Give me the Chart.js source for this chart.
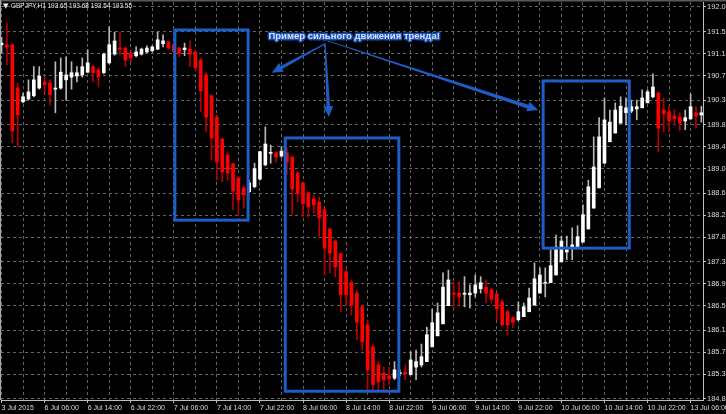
<!DOCTYPE html>
<html>
<head>
<meta charset="utf-8">
<script src="https://cdn.jsdelivr.net/npm/chart.js@4.4.1/dist/chart.umd.min.js"></script>
<style>
  html, body { margin: 0; padding: 0; background: #000; }
  canvas { display: block; }
</style>
</head>
<body>
<canvas id="chart" width="726" height="414"></canvas>
<script>
  // GBPJPY H1, one bar per hour from 3 Jul 22:00 to 13 Jul 08:00 (weekend skipped)
  const opens = [
    191.31, 191.31, 191.31, 190.52, 190.27, 190.32, 190.38, 190.52, 190.63, 190.61,
    190.50, 190.52, 190.67, 190.72, 190.74, 190.76, 190.81, 190.91, 190.85, 190.80,
    190.98, 191.14, 191.25, 191.25, 191.16, 191.11, 191.14, 191.18, 191.20, 191.23,
    191.33, 191.36, 191.31, 191.25, 191.22, 191.23, 191.18, 191.03, 190.76, 190.38,
    189.99, 189.59, 189.30, 189.14, 188.88, 188.70, 188.63, 188.72, 188.86, 189.12,
    189.33, 189.34, 189.28, 189.34, 189.26, 188.97, 188.79, 188.61, 188.50, 188.44,
    188.30, 187.95, 187.73, 187.50, 187.17, 186.97, 186.78, 186.53, 186.20, 185.80,
    185.47, 185.32, 185.27, 185.23, 185.31, 185.34, 185.29, 185.43, 185.47, 185.53,
    185.80, 186.00, 186.22, 186.55, 186.78, 186.78, 186.76, 186.75, 186.78, 186.86,
    186.89, 186.84, 186.77, 186.62, 186.44, 186.33, 186.29, 186.35, 186.44, 186.56,
    186.78, 186.96, 186.97, 187.11, 187.35, 187.53, 187.60, 187.62, 187.71, 187.95,
    188.33, 188.70, 189.15, 189.54, 189.70, 189.88, 190.07, 190.10, 190.14, 190.16,
    190.25, 190.36, 190.43, 190.12, 190.09, 190.01, 189.99, 189.92, 189.96, 190.07,
    190.03
  ];
  const highs = [
    191.45, 191.71, 191.33, 190.61, 190.43, 190.67, 190.91, 190.91, 190.72, 190.67,
    191.00, 191.07, 191.09, 191.00, 190.91, 191.07, 191.22, 190.93, 190.89, 191.16,
    191.64, 191.54, 191.54, 191.27, 191.18, 191.27, 191.25, 191.29, 191.29, 191.54,
    191.49, 191.38, 191.33, 191.27, 191.34, 191.38, 191.22, 191.07, 190.80, 190.40,
    190.03, 189.61, 189.34, 189.15, 188.90, 188.74, 188.84, 189.15, 189.37, 189.81,
    189.48, 189.36, 189.45, 189.43, 189.28, 188.99, 188.81, 188.63, 188.57, 188.53,
    188.33, 187.97, 187.75, 187.51, 187.20, 187.02, 186.84, 186.56, 186.29, 185.84,
    185.53, 185.43, 185.43, 185.53, 185.38, 185.47, 185.71, 185.74, 185.85, 186.16,
    186.49, 186.60, 187.15, 187.20, 186.98, 186.98, 187.08, 186.93, 187.11, 187.08,
    187.02, 186.87, 186.78, 186.66, 186.47, 186.35, 186.62, 186.60, 186.87, 187.33,
    187.24, 187.24, 187.57, 187.84, 187.82, 187.82, 187.97, 188.01, 188.39, 188.84,
    189.63, 189.98, 190.34, 190.12, 190.25, 190.36, 190.34, 190.30, 190.30, 190.49,
    190.49, 190.78, 190.45, 190.34, 190.19, 190.12, 190.07, 190.12, 190.41, 190.18,
    190.19
  ];
  const lows = [
    191.16, 190.94, 189.52, 189.45, 190.25, 190.30, 190.36, 190.50, 190.45, 190.21,
    190.07, 190.50, 190.30, 190.50, 190.63, 190.72, 190.80, 190.63, 190.54, 190.78,
    190.96, 191.12, 191.12, 190.91, 191.00, 191.09, 191.12, 191.16, 191.18, 191.22,
    191.27, 191.23, 191.12, 191.09, 191.11, 190.91, 190.85, 190.09, 189.72, 189.21,
    188.84, 188.81, 188.84, 188.30, 188.19, 188.33, 188.61, 188.70, 188.84, 189.10,
    189.15, 189.17, 189.26, 188.94, 188.21, 188.44, 188.17, 188.17, 188.24, 187.79,
    187.11, 187.15, 187.08, 186.44, 186.56, 186.38, 185.93, 185.74, 185.01, 185.01,
    185.01, 185.01, 185.11, 185.20, 185.27, 185.20, 185.29, 185.20, 185.43, 185.53,
    185.80, 186.00, 186.22, 186.55, 186.51, 186.56, 186.53, 186.51, 186.71, 186.78,
    186.60, 186.60, 186.29, 186.18, 186.02, 186.15, 186.29, 186.35, 186.44, 186.56,
    186.78, 186.71, 186.97, 187.11, 187.35, 187.39, 187.39, 187.62, 187.71, 187.95,
    188.33, 188.70, 189.15, 189.54, 189.70, 189.88, 189.85, 190.07, 189.94, 190.16,
    190.25, 190.34, 189.36, 189.72, 189.72, 189.85, 189.74, 189.76, 189.94, 189.79,
    189.90
  ];
  const closes = [
    191.34, 191.27, 189.74, 190.03, 190.36, 190.45, 190.67, 190.74, 190.58, 190.40,
    190.52, 190.81, 190.76, 190.80, 190.80, 190.91, 190.98, 190.80, 190.72, 191.14,
    191.31, 191.38, 191.23, 191.03, 191.07, 191.18, 191.23, 191.25, 191.27, 191.40,
    191.38, 191.25, 191.18, 191.16, 191.25, 191.14, 190.89, 190.47, 189.99, 189.61,
    189.17, 188.99, 188.97, 188.64, 188.48, 188.57, 188.79, 189.05, 189.36, 189.50,
    189.34, 189.26, 189.37, 189.17, 188.68, 188.59, 188.41, 188.35, 188.39, 188.15,
    187.60, 187.51, 187.26, 186.75, 186.75, 186.56, 186.25, 185.89, 185.38, 185.11,
    185.16, 185.20, 185.22, 185.38, 185.32, 185.31, 185.56, 185.53, 185.62, 186.02,
    186.24, 186.42, 186.89, 187.02, 186.76, 186.71, 186.77, 186.78, 186.93, 186.97,
    186.78, 186.67, 186.49, 186.20, 186.20, 186.25, 186.44, 186.53, 186.69, 187.04,
    187.11, 186.97, 187.28, 187.62, 187.73, 187.57, 187.66, 187.81, 188.21, 188.72,
    189.08, 189.63, 189.94, 189.90, 190.12, 190.19, 190.16, 190.18, 190.18, 190.34,
    190.45, 190.54, 189.79, 190.05, 189.92, 189.96, 189.88, 189.98, 190.18, 190.01,
    190.07
  ];

  // time labels, one every 8 bars; grid every 4 bars
  const xTickLabels = [
    '3 Jul 2015', '6 Jul 06:00', '6 Jul 14:00', '6 Jul 22:00', '7 Jul 06:00', '7 Jul 14:00',
    '7 Jul 22:00', '8 Jul 06:00', '8 Jul 14:00', '8 Jul 22:00', '9 Jul 06:00', '9 Jul 14:00',
    '9 Jul 22:00', '10 Jul 06:00', '10 Jul 14:00', '10 Jul 22:00', '13 Jul 06:00'
  ];
  const barsPerLabel = 8;
  const yTicks = [192.00, 191.55, 191.15, 190.75, 190.30, 189.85, 189.45, 189.05, 188.60,
                  188.20, 187.80, 187.35, 186.95, 186.55, 186.10, 185.70, 185.30, 184.85];

  const header = 'GBPJPY,H1 193.65 193.68 193.54 193.55';

  // annotation boxes / arrows in data units (bar index, price)
  const boxes = [
    { from: 32.2, to: 45.8, top: 191.58, bottom: 188.11 },
    { from: 52.7, to: 73.8, top: 189.61, bottom: 184.99 },
    { from: 100.6, to: 116.6, top: 190.65, bottom: 187.60 }
  ];
  const note = { text: 'Пример сильного движения тренда!', x: 65.5, y: 191.47 };
  const arrows = [
    { from: [60.1, 191.33], to: [50.2, 190.80], w0: 1.2, w1: 3.5 },
    { from: [60.1, 191.33], to: [60.8, 189.99], w0: 1.2, w1: 3.5 },
    { from: [60.6, 191.38], to: [99.7, 190.12], w0: 0.8, w1: 4 }
  ];

  const blue = '#1e5cc6';
  const axisText = '#dcdcdc';

  const isUp = i => closes[i] >= opens[i];
  const bodyData = opens.map((o, i) => ({ x: i, y: [o, closes[i]] }));
  const wickData = lows.map((l, i) => ({ x: i, y: [l, highs[i]] }));
  const bodyColors = opens.map((o, i) => isUp(i) ? '#ffffff' : '#ff0000');
  const wickColors = opens.map((o, i) => isUp(i) ? '#b8b8b8' : '#b80000');

  function drawArrow(ctx, x0, y0, x1, y1, w0, w1) {
    const dx = x1 - x0, dy = y1 - y0;
    const len = Math.hypot(dx, dy);
    const ux = dx / len, uy = dy / len;
    const nx = -uy, ny = ux;
    const headLen = 11, headW = 10;
    const bx = x1 - ux * headLen, by = y1 - uy * headLen;
    ctx.beginPath();
    ctx.moveTo(x0 + nx * w0 / 2, y0 + ny * w0 / 2);
    ctx.lineTo(bx + nx * w1 / 2, by + ny * w1 / 2);
    ctx.lineTo(bx + nx * headW / 2, by + ny * headW / 2);
    ctx.lineTo(x1, y1);
    ctx.lineTo(bx - nx * headW / 2, by - ny * headW / 2);
    ctx.lineTo(bx - nx * w1 / 2, by - ny * w1 / 2);
    ctx.lineTo(x0 - nx * w0 / 2, y0 - ny * w0 / 2);
    ctx.closePath();
    ctx.fill();
  }

  const terminalLook = {
    id: 'terminalLook',
    beforeDraw(chart) {
      const ctx = chart.ctx;
      ctx.save();
      ctx.fillStyle = '#000';
      ctx.fillRect(0, 0, chart.width, chart.height);
      ctx.restore();
    },
    afterDatasetsDraw(chart) {
      const { ctx, scales: { x, y } } = chart;
      ctx.save();
      // boxes
      ctx.strokeStyle = blue;
      ctx.lineWidth = 3;
      boxes.forEach(b => {
        const l = x.getPixelForValue(b.from), r = x.getPixelForValue(b.to);
        const t = y.getPixelForValue(b.top), bt = y.getPixelForValue(b.bottom);
        ctx.strokeRect(l, t, r - l, bt - t);
      });
      // arrows
      ctx.fillStyle = blue;
      arrows.forEach(a => {
        drawArrow(ctx,
          x.getPixelForValue(a.from[0]), y.getPixelForValue(a.from[1]),
          x.getPixelForValue(a.to[0]), y.getPixelForValue(a.to[1]), a.w0, a.w1);
      });
      // caption
      ctx.font = 'bold 9.5px "Liberation Sans", Arial, sans-serif';
      ctx.textAlign = 'center';
      ctx.textBaseline = 'middle';
      const tx = x.getPixelForValue(note.x), ty = y.getPixelForValue(note.y);
      ctx.lineJoin = 'round';
      ctx.lineWidth = 3;
      ctx.strokeStyle = '#1b4fb0';
      ctx.strokeText(note.text, tx, ty);
      ctx.fillStyle = '#d4e3ff';
      ctx.fillText(note.text, tx, ty);
      ctx.restore();
    },
    afterDraw(chart) {
      const ctx = chart.ctx;
      ctx.save();
      // window frame
      ctx.fillStyle = '#5a5a5a';
      ctx.fillRect(0, 0, chart.width, 1.5);
      ctx.fillStyle = '#a8a8a8';
      ctx.fillRect(0, 0, 1, chart.chartArea.bottom);
      // header line
      ctx.fillStyle = '#ececec';
      ctx.font = '7px "DejaVu Sans", sans-serif';
      ctx.textBaseline = 'middle';
      ctx.fillText('\u25BC', 3, 6.5);
      ctx.font = '7px "Liberation Sans", Arial, sans-serif';
      ctx.fillText(header, 11, 6.5, 121);
      ctx.restore();
    }
  };

  new Chart(document.getElementById('chart'), {
    type: 'bar',
    data: {
      datasets: [
        { data: bodyData, backgroundColor: bodyColors, barThickness: 3, minBarLength: 1, grouped: false, order: 0 },
        { data: wickData, backgroundColor: wickColors, barThickness: 1, grouped: false, order: 1 }
      ]
    },
    options: {
      responsive: false,
      animation: false,
      devicePixelRatio: 1,
      layout: { padding: { left: 1, top: 2, right: 0, bottom: 0 } },
      plugins: { legend: { display: false }, tooltip: { enabled: false } },
      scales: {
        x: {
          type: 'linear',
          min: -0.1,
          max: 130.3,
          offset: false,
          afterBuildTicks: s => {
            s.ticks = [];
            for (let v = 0; v <= (xTickLabels.length - 1) * barsPerLabel; v += barsPerLabel / 2) s.ticks.push({ value: v });
          },
          afterFit: s => { s.height = 14; s.paddingLeft = 0; s.paddingRight = 0; },
          grid: {
            offset: false,
            color: '#646464',
            lineWidth: 1,
            tickLength: 3,
            tickColor: c => (c.tick && c.tick.value % barsPerLabel === 0) ? '#bdbdbd' : 'transparent'
          },
          border: { display: true, color: '#bdbdbd', width: 1, dash: [3, 3] },
          ticks: {
            autoSkip: false,
            maxRotation: 0,
            minRotation: 0,
            align: 'start',
            padding: 1,
            color: axisText,
            font: { family: '"Liberation Sans", Arial, sans-serif', size: 7 },
            callback: v => v % barsPerLabel === 0 ? (xTickLabels[v / barsPerLabel] || '') : ''
          }
        },
        y: {
          position: 'right',
          min: 184.83,
          max: 192.09,
          afterBuildTicks: s => { s.ticks = yTicks.map(v => ({ value: v })); },
          afterFit: s => { s.width = 23; s.paddingTop = 0; s.paddingBottom = 0; },
          grid: { color: '#646464', lineWidth: 1, tickLength: 3, tickColor: '#bdbdbd' },
          border: { display: true, color: '#bdbdbd', width: 1, dash: [3, 3] },
          ticks: {
            padding: 1,
            color: axisText,
            font: { family: '"Liberation Sans", Arial, sans-serif', size: 7.5 },
            callback: v => Number(v).toFixed(2)
          }
        }
      }
    },
    plugins: [terminalLook]
  });
</script>
</body>
</html>
